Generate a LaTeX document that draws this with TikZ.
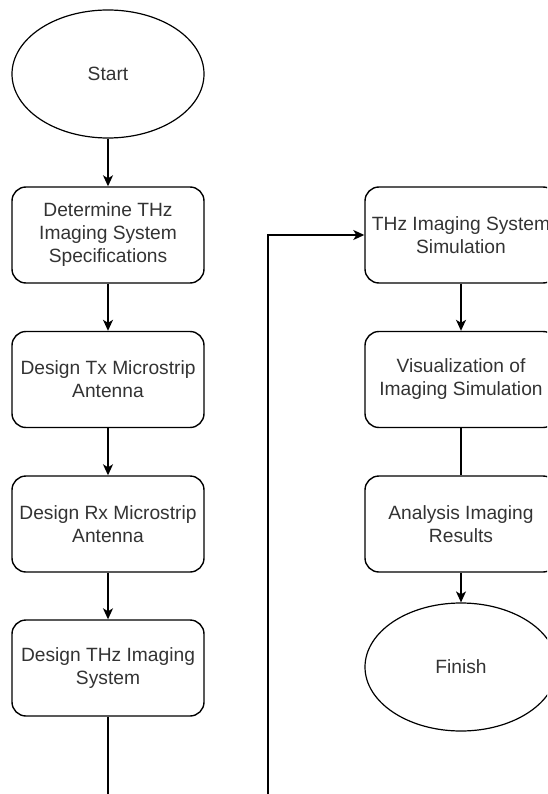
\documentclass[tikz,border=0pt]{standalone}
\usepackage{fontspec}
\setmainfont{Liberation Sans}
\usetikzlibrary{arrows.meta,shapes.geometric}
\definecolor{txt}{HTML}{333333}
\begin{document}
\begin{tikzpicture}[x=1pt,y=-1pt,
  proc/.style={draw, rounded corners=14pt, minimum width=192pt, minimum height=96pt, inner sep=0pt, align=center, font=\fontsize{19.2}{23}\selectfont, text=txt, line width=1.4pt},
  term/.style={draw, ellipse, minimum width=192pt, minimum height=128pt, inner sep=0pt, align=center, font=\fontsize{19.2}{23}\selectfont, text=txt, line width=1.2pt},
  arr/.style={line width=1.4pt, -{Stealth[length=11pt,width=10pt,inset=3pt]}},
  ln/.style={line width=1.4pt}]
\useasboundingbox (0,0) rectangle (547,794);
\clip (0,0) rectangle (547,794);
\node[term] (start) at (108,74) {Start};
\node[proc] (b1) at (108,235) {Determine THz\\Imaging System\\Specifications};
\node[proc] (b2) at (108,379.5) {Design Tx Microstrip\\Antenna};
\node[proc] (b3) at (108,524) {Design Rx Microstrip\\Antenna};
\node[proc] (b4) at (108,668) {Design THz Imaging\\System};
\node[proc] (r1) at (461,235) {THz Imaging System\\Simulation};
\node[proc] (r2) at (461,379.5) {Visualization of\\Imaging Simulation};
\node[proc] (r3) at (461,524) {Analysis Imaging\\Results};
\node[term] (fin) at (461,667) {Finish};
\coordinate (e1) at (108,800);
\coordinate (e2) at (268,800);
\draw[arr] (start) -- (b1);
\draw[arr] (b1) -- (b2);
\draw[arr] (b2) -- (b3);
\draw[arr] (b3) -- (b4);
\draw[ln] (b4) -- (e1);
\draw[arr] (e2) |- (r1);
\draw[arr] (r1) -- (r2);
\draw[ln] (r2) -- (r3);
\draw[arr] (r3) -- (fin);
\end{tikzpicture}
\end{document}
